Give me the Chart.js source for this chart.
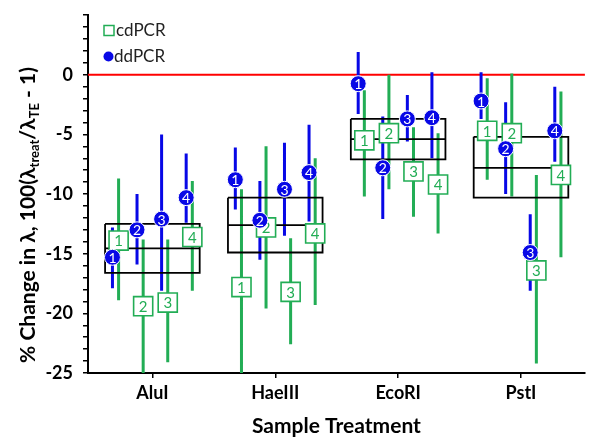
<!DOCTYPE html>
<html>
<head>
<meta charset="utf-8">
<script src="https://cdn.jsdelivr.net/npm/chart.js@4.4.1/dist/chart.umd.min.js"></script>
<style>
  html, body { margin: 0; background: #fff; }
</style>
</head>
<body>
<canvas id="chart" width="600" height="446"></canvas>
<script>
// ---- data ----
const categories = ['AluI', 'HaeIII', 'EcoRI', 'PstI'];

// cdPCR, replicate 1..4 per treatment
const cdValues = [[-13.9, -19.4, -19.1, -13.6], [-17.8, -12.8, -18.2, -13.3], [-5.5, -4.9, -8.1, -9.2], [-4.7, -4.9, -16.4, -8.4]];
const cdLow    = [[-18.9, -26, -24.1, -18.1], [-26, -19.6, -22.6, -19.3], [-10.2, -9.6, -11.9, -13.3], [-8.8, -10.2, -24.2, -15.3]];
const cdHigh   = [[-8.7, -13.8, -13.8, -8.9], [-9.6, -6.0, -13.7, -7.0], [-1.3, 0, -4.4, -4.9], [-0.3, 0.1, -8.4, -1.4]];

// ddPCR, replicate 1..4 per treatment
const ddValues = [[-15.3, -13.0, -12.1, -10.3], [-8.8, -12.2, -9.6, -8.2], [-0.75, -7.8, -3.7, -3.6], [-2.2, -6.2, -14.9, -4.7]];
const ddLow    = [[-17.9, -15.9, -18.1, -12.4], [-11.3, -15.5, -13.5, -12.3], [-3.3, -12.1, -5.6, -7.0], [-3.7, -10.0, -18.1, -7.3]];
const ddHigh   = [[-12.8, -10.0, -5.0, -6.6], [-6.1, -8.9, -5.7, -4.2], [1.9, -3.5, -1.7, 0.2], [0.2, -2.3, -11.7, -1.0]];

// box per treatment
const boxTop    = [-12.5, -10.3, -3.7, -5.2];
const boxMedian = [-14.55, -12.6, -5.4, -7.8];
const boxBottom = [-16.6, -14.9, -7.1, -10.3];

const yTickLabels = [0, -5, -10, -15, -20, -25];

// ---- layout / style ----
const ddOffset = [-0.325, -0.125, 0.075, 0.275];
const cdOffset = [-0.275, -0.075, 0.125, 0.325];
const boxHalf = 0.385;
const GREEN = '#22ad55';
const BLUE = '#0808e6';
const FONT = 'Lato, "Open Sans", sans-serif';

const pts = (vals, offs) => vals.flatMap((row, c) => row.map((v, i) => ({ x: c + 1 + offs[i], y: v })));
const bars = (lo, hi, offs) => lo.flatMap((row, c) => row.flatMap((v, i) => [
    { x: c + 1 + offs[i], y: v },
    { x: c + 1 + offs[i], y: hi[c][i] },
    { x: c + 1 + offs[i], y: null }
]));
const boxes = categories.flatMap((_, c) => {
    const l = c + 1 - boxHalf, r = c + 1 + boxHalf;
    return [
        { x: l, y: boxTop[c] }, { x: r, y: boxTop[c] }, { x: r, y: boxBottom[c] },
        { x: l, y: boxBottom[c] }, { x: l, y: boxTop[c] }, { x: l, y: null },
        { x: l, y: boxMedian[c] }, { x: r, y: boxMedian[c] }, { x: r, y: null }
    ];
});

const zeroLine = {
    id: 'zeroLine',
    beforeDatasetsDraw(chart) {
        const { ctx, chartArea: a, scales: { y } } = chart;
        const py = y.getPixelForValue(0);
        ctx.save();
        ctx.strokeStyle = '#ff0000';
        ctx.lineWidth = 2;
        ctx.beginPath();
        ctx.moveTo(a.left, py);
        ctx.lineTo(a.right, py);
        ctx.stroke();
        ctx.restore();
    }
};

// replicate numbers inside markers
const markerNumbers = {
    id: 'markerNumbers',
    afterDatasetDraw(chart, args) {
        const ds = chart.data.datasets[args.index];
        if (!ds.numbered) return;
        const { ctx } = chart;
        ctx.save();
        ctx.textAlign = 'center';
        ctx.textBaseline = 'middle';
        ctx.fillStyle = ds.numberColor;
        ctx.font = `${ds.numberFont} ${FONT}`;
        args.meta.data.forEach((p, i) => ctx.fillText(String(i % 4 + 1), p.x, p.y + 1));
        ctx.restore();
    }
};

const legendAndTitle = {
    id: 'legendAndTitle',
    afterDraw(chart) {
        const { ctx } = chart;
        ctx.save();
        // legend
        ctx.strokeStyle = GREEN;
        ctx.lineWidth = 1.5;
        ctx.fillStyle = '#fff';
        ctx.fillRect(104, 25.5, 10, 10);
        ctx.strokeRect(104, 25.5, 10, 10);
        ctx.fillStyle = BLUE;
        ctx.beginPath();
        ctx.arc(108.5, 56.5, 5, 0, Math.PI * 2);
        ctx.fill();
        ctx.fillStyle = '#222';
        ctx.font = `17px ${FONT}`;
        ctx.textBaseline = 'middle';
        ctx.fillText('cdPCR', 116, 31);
        ctx.fillText('ddPCR', 114, 57);

        // y axis title with subscripts
        const parts = [
            ['% Change in λ, 100(λ', false], ['treat', true], ['/λ', false], ['TE', true], [' - 1)', false]
        ];
        const big = `bold 21px ${FONT}`, small = `bold 13px ${FONT}`;
        let total = 0;
        parts.forEach(([t, sub]) => { ctx.font = sub ? small : big; total += ctx.measureText(t).width; });
        ctx.translate(28, 215);
        ctx.rotate(-Math.PI / 2);
        ctx.fillStyle = '#000';
        ctx.textBaseline = 'alphabetic';
        let x = -total / 2;
        parts.forEach(([t, sub]) => {
            ctx.font = sub ? small : big;
            ctx.fillText(t, x, sub ? 11 : 7);
            x += ctx.measureText(t).width;
        });
        ctx.restore();
    }
};

new Chart(document.getElementById('chart'), {
    type: 'scatter',
    data: {
        datasets: [
            {
                type: 'line', data: boxes, borderColor: '#000', borderWidth: 1.8,
                pointRadius: 0, spanGaps: false, order: 3
            },
            {
                type: 'line', data: bars(cdLow, cdHigh, cdOffset), borderColor: GREEN, borderWidth: 3,
                pointRadius: 0, spanGaps: false, order: 5
            },
            {
                type: 'line', data: bars(ddLow, ddHigh, ddOffset), borderColor: BLUE, borderWidth: 3,
                pointRadius: 0, spanGaps: false, order: 4
            },
            {
                label: 'cdPCR', data: pts(cdValues, cdOffset), pointStyle: 'rect', pointRadius: 13.5,
                backgroundColor: '#fff', borderColor: GREEN, borderWidth: 1.6, order: 2,
                numbered: true, numberColor: GREEN, numberFont: '15px'
            },
            {
                label: 'ddPCR', data: pts(ddValues, ddOffset), pointStyle: 'circle', pointRadius: 8,
                backgroundColor: BLUE, borderColor: '#fff', borderWidth: 1, order: 1,
                numbered: true, numberColor: '#fff', numberFont: '14px'
            }
        ]
    },
    options: {
        responsive: false,
        animation: false,
        layout: { padding: { top: 13, right: 13, left: 0, bottom: 0 } },
        plugins: { legend: { display: false }, tooltip: { enabled: false } },
        scales: {
            x: {
                type: 'linear', min: 0.476, max: 4.52,
                afterBuildTicks: s => { s.ticks = categories.map((_, i) => ({ value: i + 1 })); },
                afterFit: s => { s.height = 73; s.paddingLeft = 0; s.paddingRight = 0; },
                grid: { drawOnChartArea: false, tickLength: 5, color: '#000', lineWidth: 1.5 },
                border: { color: '#000', width: 2 },
                ticks: {
                    color: '#000', padding: 4, maxRotation: 0,
                    font: { family: FONT, size: 18, weight: 'bold' },
                    callback: v => categories[v - 1] ?? ''
                },
                title: {
                    display: true, text: 'Sample Treatment', color: '#000',
                    font: { family: FONT, size: 21, weight: 'bold' },
                    padding: { top: 0, bottom: 7 }
                }
            },
            y: {
                min: -25, max: 5,
                afterFit: s => { s.width = 88; s.paddingTop = 0; s.paddingBottom = 0; },
                grid: { drawOnChartArea: false, tickLength: 5, color: '#000', lineWidth: 1.5 },
                border: { color: '#000', width: 2 },
                ticks: {
                    stepSize: 1, autoSkip: false, color: '#000', padding: 10,
                    font: { family: FONT, size: 18, weight: 'bold' },
                    callback: v => yTickLabels.includes(v) ? v : ''
                }
            }
        }
    },
    plugins: [zeroLine, markerNumbers, legendAndTitle]
});
</script>
</body>
</html>
